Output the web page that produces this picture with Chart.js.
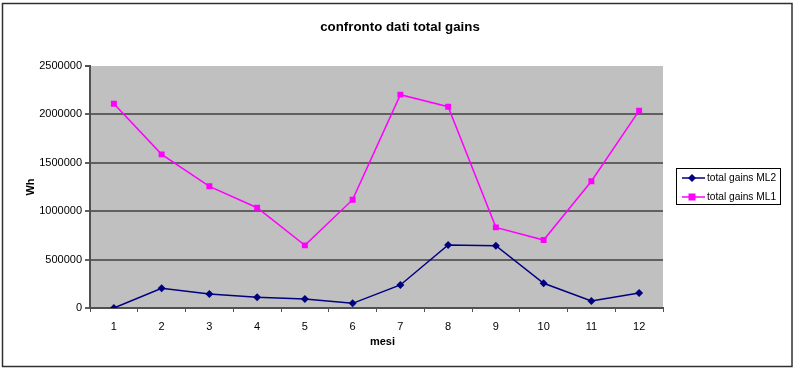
<!DOCTYPE html>
<html>
<head>
<meta charset="utf-8">
<script src="https://cdn.jsdelivr.net/npm/chart.js@4/dist/chart.umd.min.js"></script>
<style>
  html, body { margin: 0; padding: 0; background: #fff; }
  #wrap { width: 800px; height: 370px; position: relative; }
</style>
</head>
<body>
<div id="wrap"><canvas id="c" width="800" height="370"></canvas></div>
<script>
const chartTitle = "confronto dati total gains";
const xTitle = "mesi";
const yTitle = "Wh";
const months = ["1","2","3","4","5","6","7","8","9","10","11","12"];
const seriesML2Label = "total gains ML2";
const seriesML1Label = "total gains ML1";
const seriesML2 = [0, 203000, 145000, 110000, 93000, 48000, 238000, 651000, 644000, 255000, 72000, 155000];
const seriesML1 = [2111000, 1587000, 1257000, 1036000, 647000, 1119000, 2204000, 2080000, 833000, 702000, 1309000, 2039000];
const yMin = 0, yMax = 2500000, yStep = 500000;

const FONT = "'Liberation Sans', Arial, sans-serif";

const extras = {
  id: 'extras',
  beforeDraw(chart) {
    const ctx = chart.ctx, a = chart.chartArea;
    ctx.save();
    ctx.fillStyle = '#ffffff';
    ctx.fillRect(0, 0, chart.width, chart.height);
    ctx.fillStyle = '#c0c0c0';
    ctx.fillRect(a.left, a.top, a.right - a.left, a.bottom - a.top);
    ctx.restore();
  },
  afterDraw(chart) {
    const ctx = chart.ctx, a = chart.chartArea;
    ctx.save();
    // top tick mark on y axis
    ctx.strokeStyle = '#505050';
    ctx.lineWidth = 2;
    ctx.beginPath();
    ctx.moveTo(a.left - 5, a.top);
    ctx.lineTo(a.left, a.top);
    ctx.stroke();
    // outer frame
    ctx.strokeStyle = '#303030';
    ctx.lineWidth = 1.5;
    ctx.strokeRect(2.5, 3.5, 789.5, 363);
    // title
    ctx.fillStyle = '#000';
    ctx.textAlign = 'center';
    ctx.textBaseline = 'middle';
    ctx.font = "bold 13.3px " + FONT;
    ctx.fillText(chartTitle, 400, 27);
    // x title
    ctx.font = "bold 11px " + FONT;
    ctx.fillText(xTitle, (a.left + a.right) / 2 + 6, 342);
    // y title
    ctx.save();
    ctx.translate(31, 187);
    ctx.rotate(-Math.PI / 2);
    ctx.fillText(yTitle, 0, 0);
    ctx.restore();
    // legend
    const lx = 676, ly = 168, lw = 104, lh = 36;
    ctx.fillStyle = '#fff';
    ctx.fillRect(lx, ly, lw, lh);
    ctx.strokeStyle = '#000';
    ctx.lineWidth = 1;
    ctx.strokeRect(lx + 0.5, ly + 0.5, lw, lh);
    chart.data.datasets.forEach((d, i) => {
      const y = ly + 10 + i * 19;
      ctx.strokeStyle = d.borderColor;
      ctx.lineWidth = 1.5;
      ctx.beginPath();
      ctx.moveTo(lx + 6, y);
      ctx.lineTo(lx + 29, y);
      ctx.stroke();
      ctx.fillStyle = d.backgroundColor;
      if (d.pointStyle === 'rect') {
        ctx.fillRect(lx + 16 - 3.5, y - 3.5, 7, 7);
      } else {
        ctx.beginPath();
        ctx.moveTo(lx + 16, y - 4);
        ctx.lineTo(lx + 20, y);
        ctx.lineTo(lx + 16, y + 4);
        ctx.lineTo(lx + 12, y);
        ctx.closePath();
        ctx.fill();
      }
      ctx.fillStyle = '#000';
      ctx.textAlign = 'left';
      ctx.font = "10.2px " + FONT;
      ctx.fillText(d.label, lx + 31, y + 0.5);
    });
    ctx.restore();
  }
};

new Chart(document.getElementById('c'), {
  type: 'line',
  data: {
    labels: months,
    datasets: [
      {
        label: seriesML2Label,
        data: seriesML2,
        borderColor: '#000080',
        backgroundColor: '#000080',
        borderWidth: 1.5,
        pointStyle: 'rectRot',
        pointRadius: 4,
        pointBorderWidth: 0,
        tension: 0
      },
      {
        label: seriesML1Label,
        data: seriesML1,
        borderColor: '#ff00ff',
        backgroundColor: '#ff00ff',
        borderWidth: 1.5,
        pointStyle: 'rect',
        pointRadius: 4.2,
        pointBorderWidth: 0,
        tension: 0
      }
    ]
  },
  options: {
    responsive: false,
    animation: false,
    devicePixelRatio: 1,
    layout: { padding: { left: 0, top: 66, right: 137, bottom: 0 } },
    plugins: {
      legend: { display: false },
      title: { display: false },
      tooltip: { enabled: false }
    },
    scales: {
      x: {
        type: 'category',
        offset: true,
        afterFit: s => { s.height = 62; },
        grid: {
          offset: true,
          drawOnChartArea: false,
          drawTicks: true,
          tickLength: 4,
          color: '#505050',
          lineWidth: 1
        },
        border: { display: true, color: '#505050', width: 2 },
        ticks: {
          color: '#000',
          font: { family: FONT, size: 11 },
          padding: 8,
          maxRotation: 0
        }
      },
      y: {
        min: yMin,
        max: yMax,
        afterFit: s => { s.width = 90; },
        grid: {
          color: c => (c.tick && c.tick.value === yMax) ? 'rgba(0,0,0,0)' : '#606060',
          lineWidth: 2,
          drawTicks: true,
          tickLength: 5
        },
        border: { display: true, color: '#505050', width: 2 },
        ticks: {
          stepSize: yStep,
          color: '#000',
          font: { family: FONT, size: 11 },
          padding: 3,
          callback: v => String(v)
        }
      }
    }
  },
  plugins: [extras]
});
</script>
</body>
</html>
